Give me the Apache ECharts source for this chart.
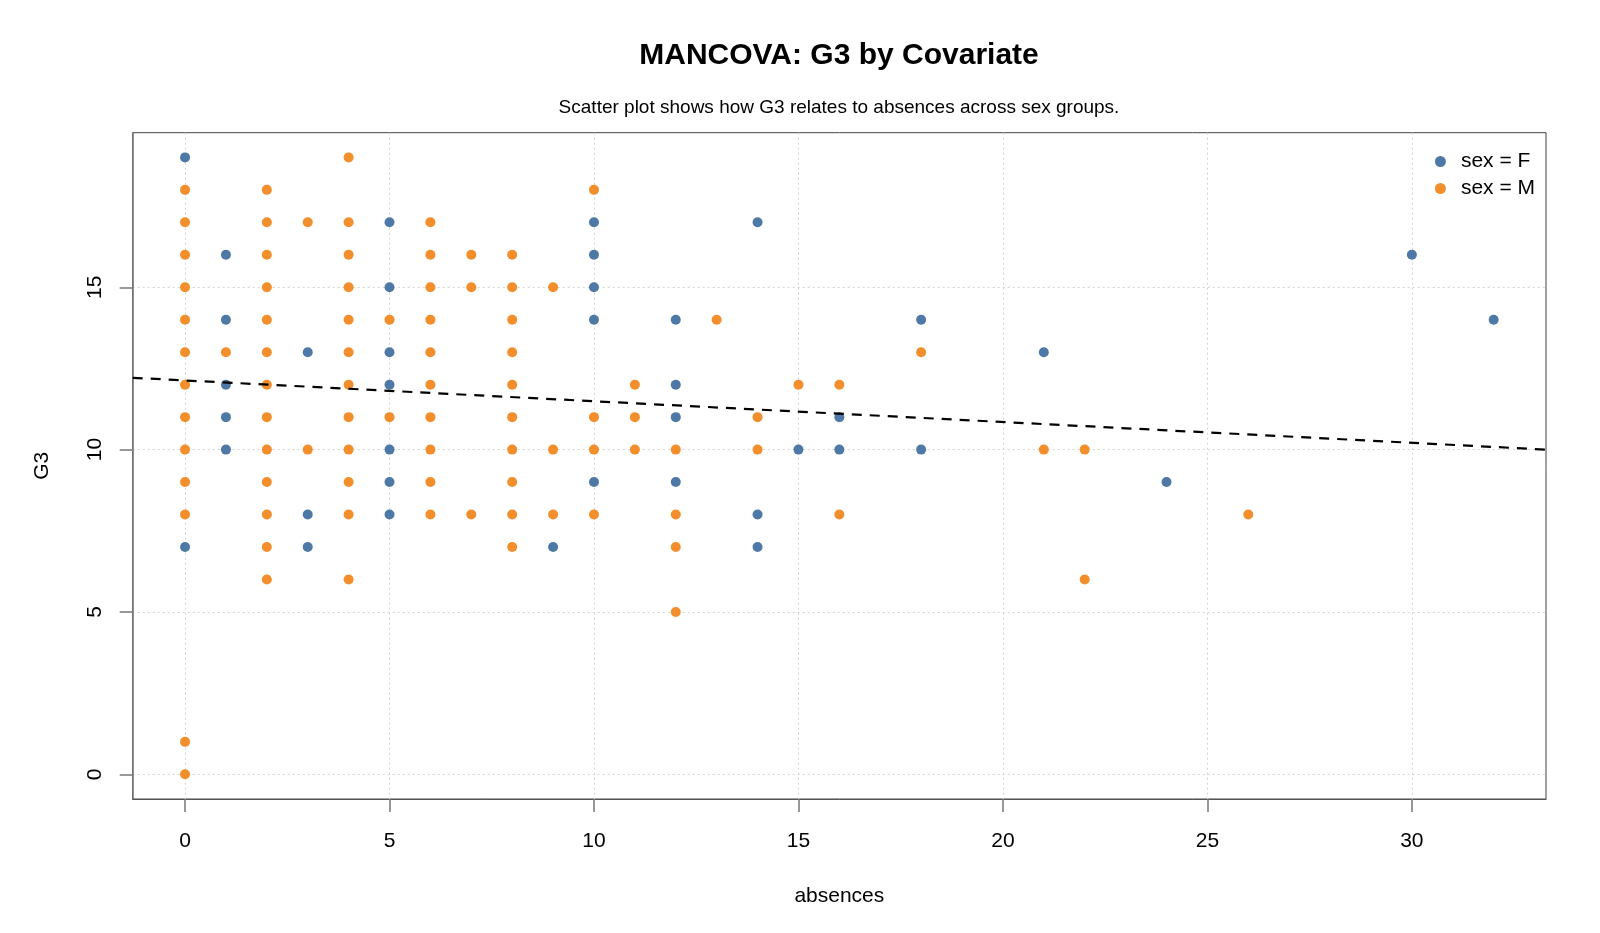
<!DOCTYPE html>
<html>
<head>
<meta charset="utf-8">
<title>MANCOVA: G3 by Covariate</title>
<script src="https://cdn.jsdelivr.net/npm/echarts@6/dist/echarts.min.js"></script>
<style>
  html, body { margin: 0; padding: 0; background: #fff; }
  #chart { width: 1600px; height: 933px; }
</style>
</head>
<body>
<div id="chart"></div>
<script>
// values, one pair per student (absences, G3)
const femaleAbsences = [0, 0, 1, 1, 1, 1, 1, 3, 3, 3, 5, 5, 5, 5, 5, 5, 5, 9,
  10, 10, 10, 10, 10, 12, 12, 12, 12, 14, 14, 14, 15, 16, 16, 18, 18, 21, 24, 30, 32]
const femaleG3 = [19, 7, 16, 14, 12, 11, 10, 13, 8, 7, 17, 15, 13, 12, 10, 9, 8, 7,
  17, 16, 15, 14, 9, 14, 12, 11, 9, 17, 8, 7, 10, 11, 10, 14, 10, 13, 9, 16, 14]

const maleAbsences = [
  0, 0, 0, 0, 0, 0, 0, 0, 0, 0, 0, 0, 0,
  1,
  2, 2, 2, 2, 2, 2, 2, 2, 2, 2, 2, 2, 2,
  3, 3,
  4, 4, 4, 4, 4, 4, 4, 4, 4, 4, 4, 4,
  5, 5,
  6, 6, 6, 6, 6, 6, 6, 6, 6, 6,
  7, 7, 7,
  8, 8, 8, 8, 8, 8, 8, 8, 8, 8,
  9, 9, 9,
  10, 10, 10, 10,
  11, 11, 11,
  12, 12, 12, 12,
  13, 14, 14, 15, 16, 16, 18, 21, 22, 22, 26]
const maleG3 = [
  18, 17, 16, 15, 14, 13, 12, 11, 10, 9, 8, 1, 0,
  13,
  18, 17, 16, 15, 14, 13, 12, 11, 10, 9, 8, 7, 6,
  17, 10,
  19, 17, 16, 15, 14, 13, 12, 11, 10, 9, 8, 6,
  14, 11,
  17, 16, 15, 14, 13, 12, 11, 10, 9, 8,
  16, 15, 8,
  16, 15, 14, 13, 12, 11, 10, 9, 8, 7,
  15, 10, 8,
  18, 11, 10, 8,
  12, 11, 10,
  10, 8, 7, 5,
  14, 11, 10, 12, 12, 8, 13, 10, 10, 6, 8]

const xTicks = [0, 5, 10, 15, 20, 25, 30]
const yTicks = [0, 5, 10, 15]

// fitted line G3 ~ absences
const fitIntercept = 12.13
const fitSlope = -0.064

// axis limits (data range plus 4%)
const xMin = -1.28, xMax = 33.28
const yMin = -0.76, yMax = 19.76

const pairs = (xs, ys) => xs.map((x, i) => [x, ys[i]])

const font = '"Liberation Sans", Arial, sans-serif'
const plotCenter = 839

let mychart = echarts.init(document.getElementById('chart'))
mychart.setOption({
  animation: false,
  textStyle: { fontFamily: font, color: '#000' },
  graphic: [
    {
      type: 'text', x: plotCenter, y: 56,
      style: { text: 'MANCOVA: G3 by Covariate', font: 'bold 30px ' + font, fill: '#000', align: 'center', verticalAlign: 'middle' },
    },
    {
      type: 'text', x: plotCenter, y: 108,
      style: { text: 'Scatter plot shows how G3 relates to absences across sex groups.', font: '19px ' + font, fill: '#000', align: 'center', verticalAlign: 'middle' },
    },
  ],
  grid: {
    left: 132.7, right: 54, top: 132.7, bottom: 134,
    show: true, borderColor: '#444', borderWidth: 1,
  },
  legend: {
    data: ['sex = F', 'sex = M'],
    orient: 'vertical',
    right: 60, top: 146,
    icon: 'circle', itemWidth: 11, itemHeight: 11, itemGap: 6,
    textStyle: { fontSize: 21, lineHeight: 21, color: '#000', padding: [0, 0, 0, 10] },
  },
  xAxis: {
    type: 'value', min: xMin, max: xMax,
    name: 'absences', nameLocation: 'middle', nameGap: 87,
    nameTextStyle: { fontSize: 21, color: '#000' },
    axisLine: { show: true, onZero: false, lineStyle: { color: '#555', width: 1 } },
    axisTick: { show: true, customValues: xTicks, length: 13, lineStyle: { color: '#777', width: 1.5 } },
    axisLabel: { customValues: xTicks, fontSize: 21, color: '#000', margin: 32 },
    splitLine: { show: true, lineStyle: { color: '#d4d4d4', type: [2, 3], width: 1 } },
  },
  yAxis: {
    type: 'value', min: yMin, max: yMax,
    name: 'G3', nameLocation: 'middle', nameGap: 80, nameRotate: 90,
    nameTextStyle: { fontSize: 21, color: '#000' },
    axisLine: { show: true, onZero: false, lineStyle: { color: '#777', width: 1.5 } },
    axisTick: { show: true, customValues: yTicks, length: 13, lineStyle: { color: '#777', width: 1.5 } },
    axisLabel: { customValues: yTicks, fontSize: 21, color: '#000', margin: 27, rotate: 90 },
    splitLine: { show: true, lineStyle: { color: '#d4d4d4', type: [2, 3], width: 1 } },
  },
  series: [
    {
      name: 'sex = F',
      type: 'scatter',
      symbolSize: 10,
      itemStyle: { color: '#4E79A7', opacity: 1 },
      data: pairs(femaleAbsences, femaleG3),
    },
    {
      name: 'sex = M',
      type: 'scatter',
      symbolSize: 10,
      itemStyle: { color: '#F28E2B', opacity: 1 },
      data: pairs(maleAbsences, maleG3),
    },
    {
      name: 'fit',
      type: 'line',
      symbol: 'none',
      silent: true,
      lineStyle: { color: '#000', width: 2.2, type: [10, 8] },
      data: [xMin, xMax].map(x => [x, fitIntercept + fitSlope * x]),
      z: 3,
    },
  ],
})
</script>
</body>
</html>
